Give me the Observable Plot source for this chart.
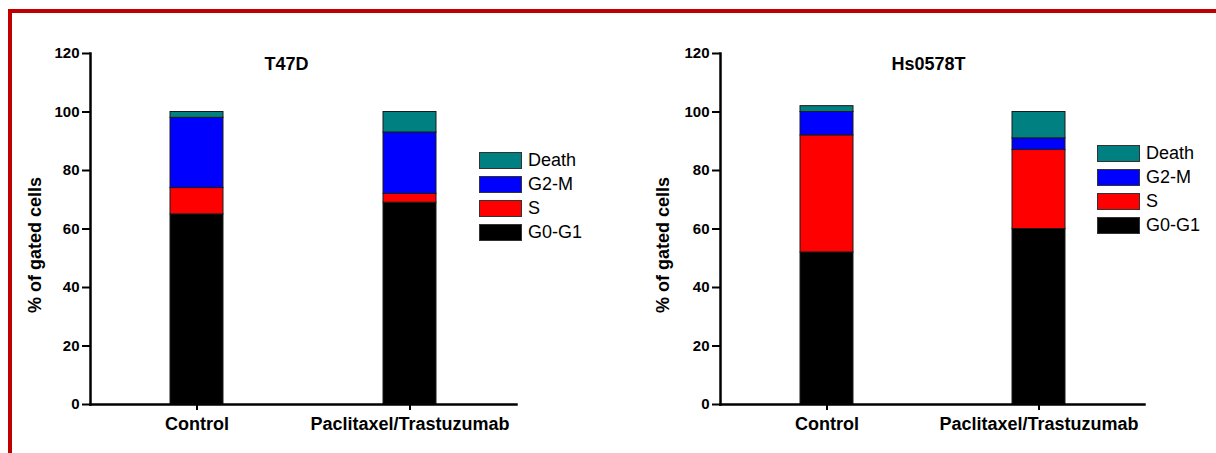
<!DOCTYPE html>
<html><head><meta charset="utf-8">
<script src="https://cdn.jsdelivr.net/npm/d3@7"></script>
<script src="https://cdn.jsdelivr.net/npm/@observablehq/plot@0.6"></script>
<style>
body{margin:0;background:#fff;}
#wrap{position:relative;width:1216px;height:453px;overflow:hidden;font-family:"Liberation Sans",Arial,sans-serif;}
.panel{position:absolute;top:0;width:608px;height:453px;}
.border-top{position:absolute;left:8px;top:9px;width:1208px;height:4px;background:#c00000;}
.border-left{position:absolute;left:8px;top:9px;width:4px;height:444px;background:#c00000;}
.legend{position:absolute;}
.legend .item{position:absolute;left:0;height:17px;white-space:nowrap;}
.sw{position:absolute;left:0;top:0;width:41px;height:15px;border:1px solid #333;}
.lab{position:absolute;left:49px;top:-2px;font-size:18px;line-height:20px;color:#000;}
</style></head>
<body>
<div id="wrap">
  <div class="border-top"></div>
  <div class="border-left"></div>
  <div class="panel" id="p0" style="left:0"></div>
  <div class="panel" id="p1" style="left:608px"></div>
  <div class="legend" id="l0" style="left:479px;top:152px"></div>
  <div class="legend" id="l1" style="left:1097px;top:145px"></div>
</div>
<script>
const categories = ["Control", "Paclitaxel/Trastuzumab"];
const phases = ["G0-G1", "S", "G2-M", "Death"];
const phaseColors = ["#000000", "#ff0000", "#0000ff", "#008080"];
const yTicks = [0, 20, 40, 60, 80, 100, 120];
const t47dControl = [65, 9, 24, 2];
const t47dTreated = [69, 3, 21, 7];
const hsControl = [52, 40, 8, 2];
const hsTreated = [60, 27, 4, 9];
const titles = ["T47D", "Hs0578T"];
const yLabel = "% of gated cells";

function rows(control, treated) {
  const out = [];
  [control, treated].forEach((vals, i) =>
    vals.forEach((v, j) => out.push({cat: categories[i], phase: phases[j], value: v})));
  return out;
}

function chart({data, title, marginLeft, marginRight, titleDx, labelDx}) {
  return Plot.plot({
    width: 608, height: 453, marginTop: 53, marginBottom: 49, marginLeft, marginRight,
    style: {fontFamily: '"Liberation Sans", Arial, sans-serif', background: "transparent", color: "#000", overflow: "visible"},
    x: {domain: categories, paddingInner: 0.75, paddingOuter: 0.375, axis: null},
    y: {domain: [0, 120], axis: null},
    color: {domain: phases, range: phaseColors},
    marks: [
      Plot.barY(data, {x: "cat", y: "value", fill: "phase", order: phases, stroke: "#1a1a1a", strokeWidth: 1}),
      Plot.axisY({ticks: yTicks, tickSize: 8, tickPadding: 3, fontSize: 15, fontWeight: "bold", strokeWidth: 2, label: null}),
      Plot.axisX({tickSize: 6, tickPadding: 7, fontSize: 18, fontWeight: "bold", strokeWidth: 2, label: null}),
      Plot.frame({anchor: "left", strokeWidth: 2.5}),
      Plot.frame({anchor: "bottom", strokeWidth: 2.5}),
      Plot.text([title], {frameAnchor: "top", dx: titleDx, dy: 11, lineAnchor: "middle", fontSize: 18, fontWeight: "bold"}),
      Plot.text([yLabel], {frameAnchor: "left", rotate: -90, dx: labelDx, dy: 16, textAnchor: "middle", lineAnchor: "middle", fontSize: 18, fontWeight: "bold"})
    ]
  });
}

document.getElementById("p0").appendChild(chart({
  data: rows(t47dControl, t47dTreated), title: titles[0],
  marginLeft: 90, marginRight: 92, titleDx: -17, labelDx: -55
}));
document.getElementById("p1").appendChild(chart({
  data: rows(hsControl, hsTreated), title: titles[1],
  marginLeft: 112, marginRight: 72, titleDx: -4, labelDx: -57
}));

function legend(id) {
  const el = document.getElementById(id);
  phases.slice().reverse().forEach((p, i) => {
    const item = document.createElement("div");
    item.className = "item";
    item.style.top = (i * 24) + "px";
    const sw = document.createElement("div");
    sw.className = "sw";
    sw.style.background = phaseColors[phases.indexOf(p)];
    const lab = document.createElement("div");
    lab.className = "lab";
    lab.textContent = p;
    item.appendChild(sw); item.appendChild(lab);
    el.appendChild(item);
  });
}
legend("l0");
legend("l1");
</script>
</body></html>
